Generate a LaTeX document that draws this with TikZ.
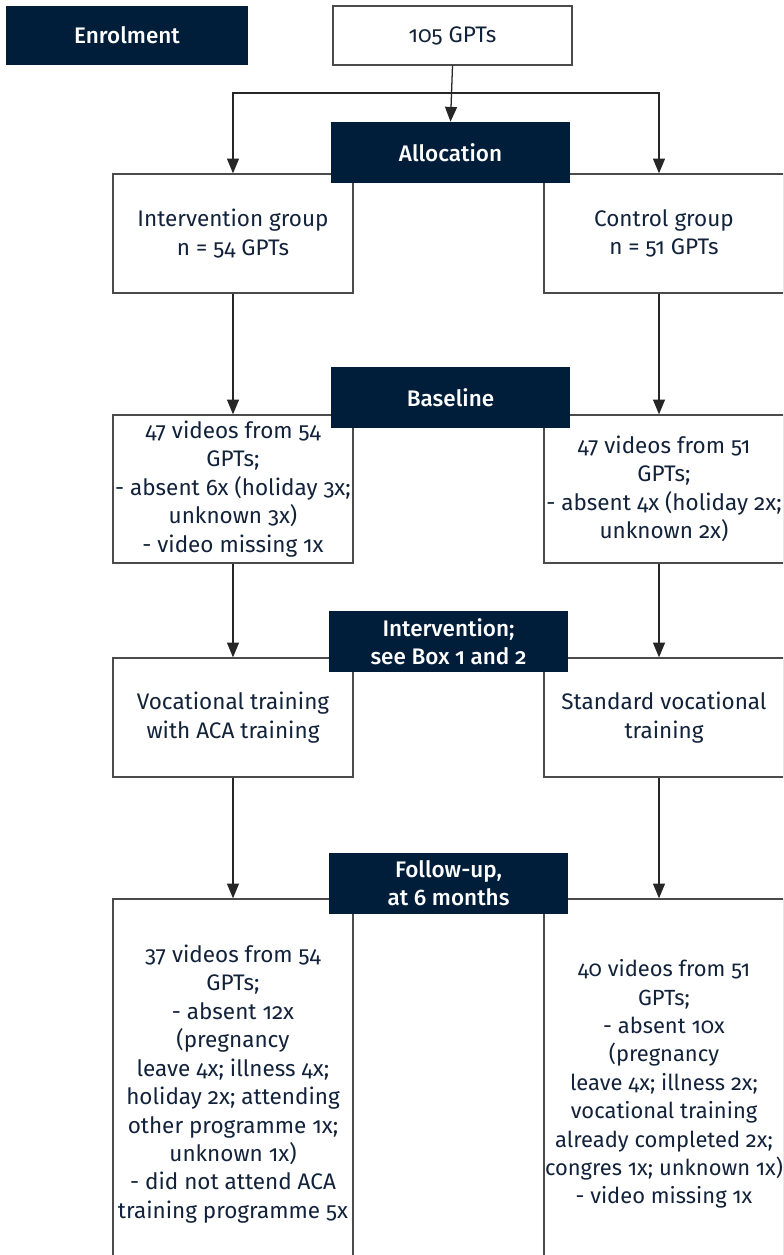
\documentclass[tikz,border=0pt]{standalone}
\usepackage{fontspec}
\setmainfont{Fira Sans}[Numbers=OldStyle]
\newfontfamily\phasefont{Fira Sans Medium}[Numbers=OldStyle]
\usetikzlibrary{arrows.meta,positioning}
\definecolor{trial-navy}{RGB}{0,30,58}
\definecolor{trial-ink}{RGB}{18,34,58}
\definecolor{trial-rule}{RGB}{75,75,75}

\begin{document}
\begin{tikzpicture}[
    x=0.025cm, y=-0.025cm,
    box/.style = {rectangle, draw=trial-rule, line width=0.9pt, fill=white,
                  minimum width=6cm, minimum height=2.975cm, inner sep=0pt,
                  align=center, text=trial-ink,
                  font=\fontsize{16}{20.2}\selectfont},
    phase/.style = {rectangle, fill=trial-navy, minimum width=5.975cm,
                    minimum height=1.525cm, inner sep=0pt, align=center,
                    text=white, font=\fontsize{16}{19.8}\selectfont\phasefont},
    arrow/.style = {-{Triangle[length=3.7mm,width=3mm]}, line width=0.9pt,
                    draw=black!85}
  ]
    \useasboundingbox (0,0) rectangle (783,1255);
    \clip (0,0) rectangle (783,1255);

    %% ---- Enrolment ----
    \node[phase, minimum width=6.05cm, minimum height=1.475cm] (enrol)
      at (127,35.5) {Enrolment};
    \node[box, minimum width=5.975cm, minimum height=1.475cm] (total)
      at (452.5,35.5) {105 GPTs};

    %% ---- Allocation: two groups ----
    \node[box] (intgrp)  at (233,233.5) {Intervention group\\n = 54 GPTs};
    \node[box] (ctrlgrp) at (664,233.5) {Control group\\n = 51 GPTs};
    \node[phase] (alloc) at (450.5,152.5) {Allocation};

    \coordinate (split) at (450.5,93);
    \coordinate (rcol)  at (659,93);
    \draw[arrow] (total.south) -- (alloc.north);
    \draw[arrow] (split) -| (intgrp.north);
    \draw[arrow] (split) -| (rcol |- ctrlgrp.north);

    %% ---- Baseline ----
    \node[box, minimum height=3.7cm] (intbase) at (233,489)
      {47 videos from 54\\GPTs;\\- absent 6x (holiday 3x;\\unknown 3x)\\- video missing 1x};
    \node[box, minimum height=3.7cm] (ctrlbase) at (664,489)
      {47 videos from 51\\GPTs;\\- absent 4x (holiday 2x;\\unknown 2x)};
    \node[phase] (basedark) at (450.5,397.5) {Baseline};
    \draw[arrow] (intgrp.south) -- (intbase.north);
    \draw[arrow] (rcol |- ctrlgrp.south) -- (rcol |- ctrlbase.north);

    %% ---- Intervention ----
    \node[box] (inttrain)  at (233,717.5) {Vocational training\\with ACA training};
    \node[box] (ctrltrain) at (664,717.5) {Standard vocational\\training};
    \node[phase] (intdark) at (448.5,641.5) {Intervention;\\see Box 1 and 2};
    \draw[arrow] (intbase.south) -- (inttrain.north);
    \draw[arrow] (rcol |- ctrlbase.south) -- (rcol |- ctrltrain.north);

    %% ---- Follow-up (boxes run past the lower edge) ----
    \node[box, minimum height=9.25cm] (intfu) at (233,1084)
      {37 videos from 54\\GPTs;\\- absent 12x\\(pregnancy\\leave 4x; illness 4x;\\holiday 2x; attending\\other programme 1x;\\unknown 1x)\\- did not attend ACA\\training programme 5x};
    \node[box, minimum height=9.25cm, font=\fontsize{15.6}{20.2}\selectfont]
      (ctrlfu) at (664,1084)
      {40 videos from 51\\GPTs;\\- absent 10x\\(pregnancy\\leave 4x; illness 2x;\\vocational training\\already completed 2x;\\congres 1x; unknown 1x)\\- video missing 1x};
    \node[phase] (fudark) at (448.5,883.5) {Follow-up,\\at 6 months};
    \draw[arrow] (inttrain.south) -- (intfu.north);
    \draw[arrow] (rcol |- ctrltrain.south) -- (rcol |- ctrlfu.north);

  \end{tikzpicture}
\end{document}
